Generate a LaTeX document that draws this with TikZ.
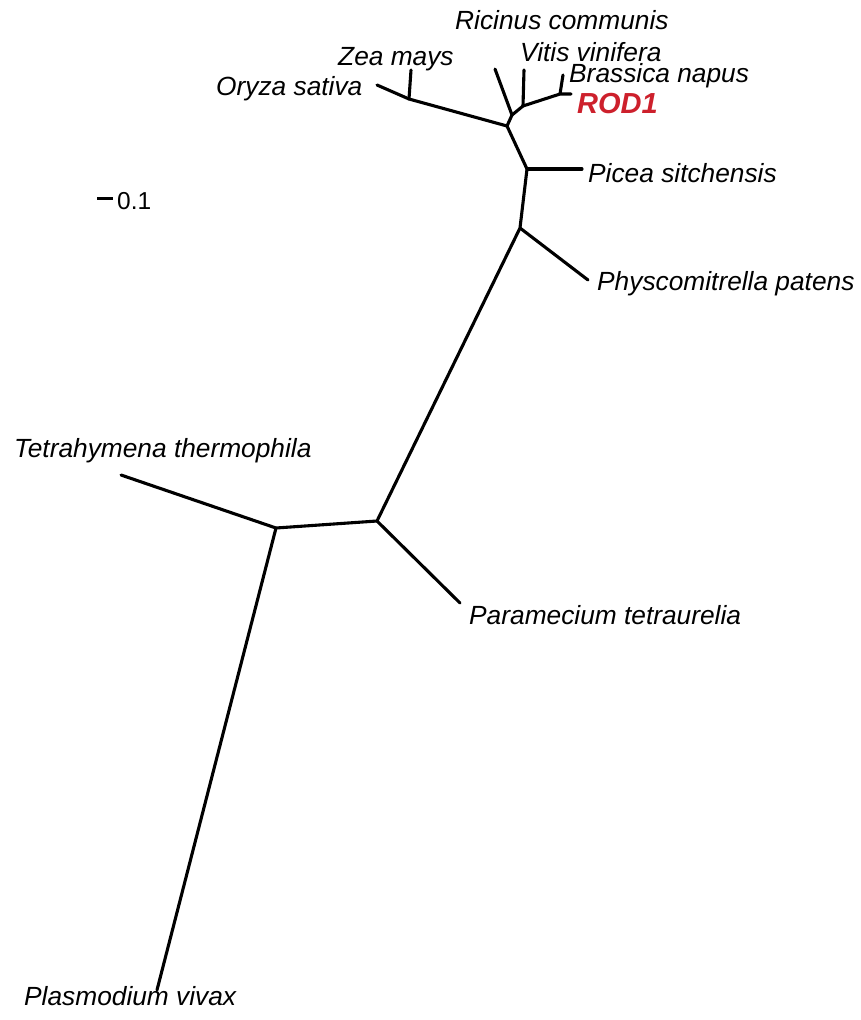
\documentclass[tikz,border=0pt]{standalone}
\usepackage{fontspec}
\setmainfont{Liberation Sans}
\definecolor{rodred}{RGB}{205,32,44}
\begin{document}
\begin{tikzpicture}[x=1pt,y=-1pt,
  branch/.style={line width=3.1pt,line cap=round,line join=round},
  taxon/.style={inner sep=0pt,anchor=base west,font=\fontsize{26.3}{30}\selectfont\itshape},
  scalelbl/.style={inner sep=0pt,anchor=base west,font=\fontsize{24.5}{28}\selectfont}]
\useasboundingbox (0,0) rectangle (861,1020);
% internal nodes
\coordinate (mono) at (409,99);
\coordinate (A) at (507,126);
\coordinate (B) at (512,115);
\coordinate (C) at (523,106);
\coordinate (D) at (560,94);
\coordinate (E) at (527,169);
\coordinate (F) at (520,228);
\coordinate (G) at (377,521);
\coordinate (H) at (276,528);
% tips
\coordinate (toryza) at (377,85);
\coordinate (tzea) at (411,70);
\coordinate (tricinus) at (495,69);
\coordinate (tvitis) at (524,70);
\coordinate (tbrassica) at (563,75);
\coordinate (trod) at (571,94);
\coordinate (tpicea) at (582,169);
\coordinate (tphysco) at (588,280);
\coordinate (tpara) at (460,603);
\coordinate (ttetra) at (121,475);
\coordinate (tplasmo) at (157,990);
% branches
\draw[branch] (ttetra) -- (H) -- (G) -- (F) -- (E) -- (A) -- (B) -- (C) -- (D) -- (trod);
\draw[branch] (H) -- (tplasmo);
\draw[branch] (G) -- (tpara);
\draw[branch] (F) -- (tphysco);
\draw[branch] (E) -- (tpicea);
\draw[branch] (A) -- (mono) -- (toryza);
\draw[branch] (mono) -- (tzea);
\draw[branch] (B) -- (tricinus);
\draw[branch] (C) -- (tvitis);
\draw[branch] (D) -- (tbrassica);
% labels
\node[taxon] (lricinus) at (455,29) {Ricinus communis};
\node[taxon] (lvitis) at (520,61) {Vitis vinifera};
\node[taxon] (lbrassica) at (569,82) {Brassica napus};
\node[taxon,text=rodred,font=\fontsize{29}{33}\selectfont\bfseries\itshape] (lrod) at (577,113) {ROD1};
\node[taxon] (lzea) at (338,65) {Zea mays};
\node[taxon] (loryza) at (216,95) {Oryza sativa};
\node[taxon] (lpicea) at (588,182) {Picea sitchensis};
\node[taxon] (lphysco) at (597,290) {Physcomitrella patens};
\node[taxon] (ltetra) at (14,457) {Tetrahymena thermophila};
\node[taxon] (lpara) at (469,624) {Paramecium tetraurelia};
\node[taxon] (lplasmo) at (24,1005) {Plasmodium vivax};
% scale bar
\coordinate (sb1) at (97,198);
\coordinate (sb2) at (113,198);
\draw[line width=3pt] (sb1) -- (sb2);
\node[scalelbl] (lscale) at (117,209) {0.1};
\end{tikzpicture}
\end{document}
